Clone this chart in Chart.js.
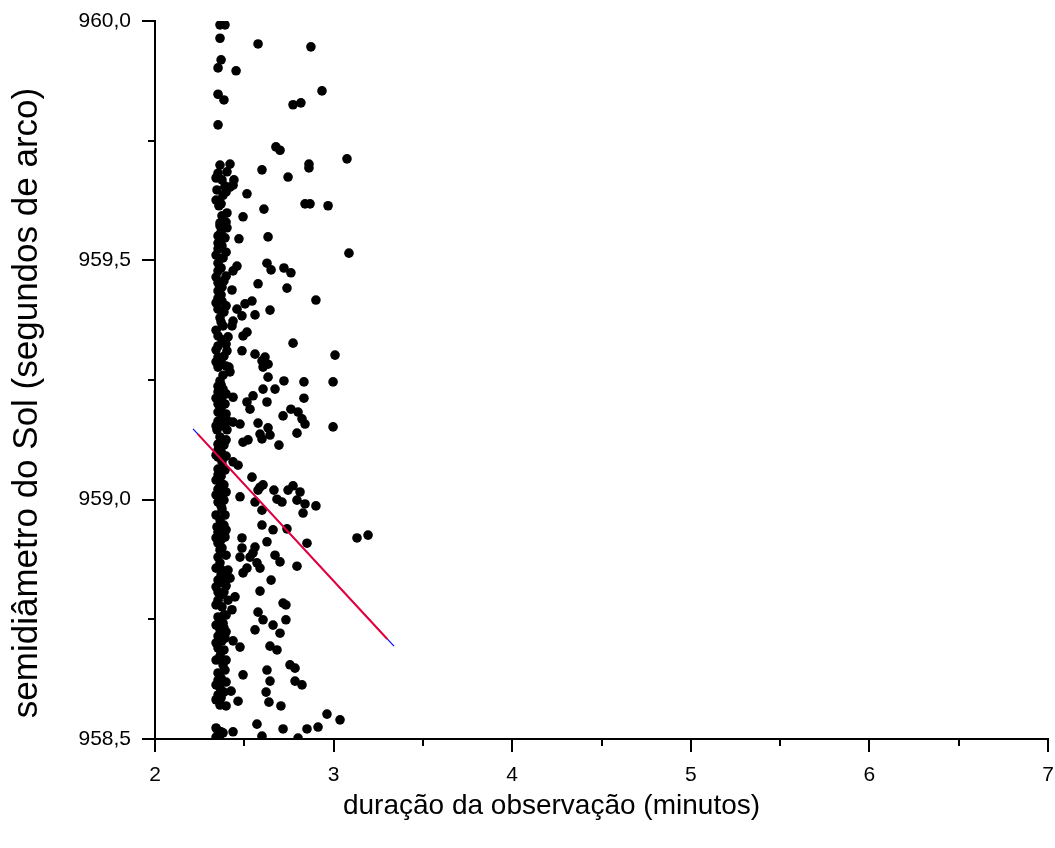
<!DOCTYPE html>
<html>
<head>
<meta charset="utf-8">
<script src="https://cdn.jsdelivr.net/npm/chart.js@4.4.1/dist/chart.umd.min.js"></script>
<style>
  html, body { margin: 0; padding: 0; background: #fff; }
  #wrap { width: 1055px; height: 848px; }
</style>
</head>
<body>
<div id="wrap"><canvas id="semiChart" width="1055" height="848"></canvas></div>
<script>
// duração da observação (minutos)
const durX = [
  2.364,2.392,2.364,2.370,2.353,2.353,2.386,2.353,2.364,2.420,
  2.353,2.403,2.392,2.420,2.437,2.358,2.403,2.364,2.364,2.403,
  2.353,2.392,2.353,2.375,2.353,2.353,2.353,2.353,2.386,2.353,
  2.431,2.353,2.375,2.353,2.364,2.437,2.381,2.431,2.353,2.409,
  2.353,2.403,2.353,2.353,2.414,2.420,2.364,2.353,2.353,2.381,
  2.375,2.437,2.353,2.353,2.392,2.353,2.381,2.409,2.437,2.476,
  2.347,2.403,2.364,2.353,2.353,2.353,2.375,2.437,2.465,2.353,
  2.353,2.364,2.353,2.364,2.353,2.375,2.392,2.347,2.353,2.392,
  2.353,2.375,2.353,2.364,2.375,2.409,2.420,2.353,2.381,2.353,
  2.353,2.409,2.448,2.375,2.431,2.353,2.381,2.364,2.353,2.392,
  2.375,2.437,2.353,2.364,2.381,2.353,2.353,2.364,2.353,2.364,
  2.353,2.381,2.437,
  2.342,2.375,2.347,2.381,2.342,2.375,2.342,2.381,2.342,2.375,
  2.342,2.386,2.342,2.375,2.342,2.386,2.342,2.381,2.342,2.375,
  2.342,2.386,2.342,2.392,2.342,2.386,2.342,2.386,2.342,2.364,
  2.386,2.342,2.364,2.342,2.386,2.342,2.386,2.342,2.386,2.342,
  2.386,2.342,2.386,2.342,2.392,2.342,2.386,2.342,2.342,2.364,2.342,
  2.398,2.370,2.398,2.370,2.398,2.370,2.398,2.370,2.398,2.370,
  2.398,2.370,2.398,2.370,2.398,2.370,2.398,2.370,2.398,2.370,
  2.398,2.370,2.398,2.370,2.398,2.370,2.398,2.370,2.398,2.370,
  2.398,2.370,2.398,2.370,2.398,2.370,2.398,2.370,2.398,2.370,
  2.577,2.873,2.454,2.935,2.773,2.817,2.677,2.700,3.075,2.599,
  2.862,2.862,2.442,2.745,2.515,2.610,2.840,2.868,2.969,2.493,
  2.470,2.633,3.086,2.459,2.437,2.627,2.650,2.722,2.761,2.577,
  2.739,2.543,2.504,2.459,2.901,2.644,2.560,2.487,2.515,2.493,
  2.773,2.487,2.560,2.616,2.599,2.633,2.605,3.008,2.633,2.722,
  2.834,2.997,2.605,2.672,2.549,2.515,2.532,2.834,2.627,2.761,
  2.717,2.801,2.823,2.840,2.577,2.633,2.997,2.588,2.599,2.644,
  2.493,2.521,2.694,2.795,2.543,2.588,2.605,2.577,2.666,2.745,
  2.773,2.812,2.476,2.560,2.683,2.711,2.795,2.840,2.901,2.599,
  2.829,2.599,2.661,2.739,2.487,2.487,2.560,2.549,2.532,2.476,
  2.627,2.672,2.700,2.851,2.795,3.131,3.193,2.571,2.588,2.515,
  2.493,2.650,2.588,2.717,2.733,2.577,2.605,2.733,2.661,2.560,
  2.700,2.476,2.644,2.683,2.756,2.784,2.627,2.493,2.644,2.784,
  2.823,2.426,2.622,2.465,2.638,2.705,2.963,3.036,2.571,2.913,
  2.851,2.717,2.599,2.801
];

// semidiâmetro do Sol (segundos de arco)
const semiY = [
  959.992,959.992,959.964,959.919,959.902,959.847,959.835,959.783,959.699,959.701,
  959.682,959.685,959.655,959.653,959.657,959.614,959.599,959.578,959.572,959.568,
  959.551,959.547,959.536,959.530,959.524,959.494,959.478,959.453,959.457,959.436,
  959.438,959.421,959.415,959.398,959.380,959.373,959.363,959.363,959.342,959.340,
  959.321,959.311,959.298,959.277,959.277,959.267,959.248,959.237,959.225,959.231,
  959.214,959.214,959.200,959.183,959.200,959.164,959.162,959.164,959.162,959.158,
  959.146,959.146,959.131,959.116,959.104,959.089,959.079,959.079,959.072,959.064,
  959.052,959.037,959.022,959.010,958.995,958.981,958.968,958.943,958.932,958.922,
  958.909,958.899,958.880,958.868,958.853,958.853,958.836,958.832,958.826,958.807,
  958.790,958.790,958.797,958.776,958.770,958.755,958.742,958.728,958.715,958.711,
  958.705,958.705,958.690,958.673,958.655,958.638,958.623,958.607,958.592,958.571,
  958.517,958.513,958.515,
  959.672,959.668,959.647,959.636,959.626,959.593,959.511,959.505,959.465,959.444,
  959.411,959.392,959.354,959.334,959.313,959.300,959.288,959.260,959.212,959.175,
  959.154,959.114,959.093,959.062,959.041,959.031,959.010,958.999,958.968,958.958,
  958.947,958.920,958.895,958.857,958.843,958.818,958.807,958.780,958.759,958.738,
  958.732,958.701,958.686,958.665,958.644,958.613,958.598,958.582,958.523,958.508,958.504,
  959.643,959.618,959.580,959.559,959.517,959.484,959.467,959.428,959.405,959.371,
  959.325,959.292,959.279,959.240,959.221,959.192,959.179,959.154,959.125,959.100,
  959.091,959.049,959.016,958.987,958.937,958.916,958.884,958.843,958.820,958.801,
  958.759,958.749,958.724,958.682,958.665,958.627,958.619,958.586,958.569,958.515,
  959.952,959.946,959.896,959.854,959.825,959.829,959.737,959.730,959.712,959.689,
  959.701,959.693,959.668,959.674,959.639,959.607,959.618,959.618,959.614,959.591,
  959.545,959.549,959.515,959.488,959.478,959.494,959.480,959.484,959.474,959.451,
  959.442,959.415,959.409,959.398,959.417,959.396,959.386,959.384,959.350,959.342,
  959.327,959.311,959.304,959.298,959.290,959.283,959.277,959.302,959.256,959.248,
  959.246,959.246,959.231,959.231,959.217,959.204,959.189,959.212,959.204,959.189,
  959.175,959.183,959.169,959.158,959.160,959.150,959.152,959.137,959.127,959.135,
  959.120,959.125,959.114,959.139,959.047,959.026,959.031,959.020,959.020,959.020,
  959.029,959.016,959.006,958.995,959.001,958.995,958.999,958.991,958.987,958.978,
  958.972,958.947,958.937,958.939,958.920,958.899,958.901,958.889,958.880,958.880,
  958.912,958.884,958.870,958.909,958.861,958.920,958.926,958.868,958.857,958.857,
  958.847,958.832,958.809,958.784,958.780,958.765,958.749,958.749,958.738,958.728,
  958.721,958.692,958.694,958.686,958.655,958.648,958.644,958.634,958.621,958.621,
  958.613,958.600,958.598,958.579,958.577,958.569,958.552,958.540,958.531,958.525,
  958.521,958.521,958.506,958.502
];

// linear fit (two overlaid curves: blue underneath, red on top)
const fitBlueX = [2.213, 3.338];
const fitBlueY = [959.148, 958.694];
const fitRedX = [2.240, 3.300];
const fitRedY = [959.137, 958.709];

const xTicksMajor = [2, 3, 4, 5, 6, 7];
const yTicksMajor = [958.5, 959.0, 959.5, 960.0];
const xTitle = 'duração da observação (minutos)';
const yTitle = 'semidiâmetro do Sol (segundos de arco)';

const sans = "'Liberation Sans', Arial, Helvetica, sans-serif";

function isMajor(list, v) {
    return list.some(m => Math.abs(m - v) < 1e-6);
}

// outward tick marks (long on labelled values) and the two axis titles
const axisDecor = {
    id: 'axisDecor',
    afterDraw(chart) {
        const ctx = chart.ctx;
        const xs = chart.scales.x;
        const ys = chart.scales.y;
        ctx.save();
        ctx.strokeStyle = '#000';
        ctx.lineWidth = 2;
        xs.ticks.forEach(t => {
            const px = Math.round(xs.getPixelForValue(t.value));
            const len = isMajor(xTicksMajor, t.value) ? 13 : 7;
            ctx.beginPath();
            ctx.moveTo(px, xs.top);
            ctx.lineTo(px, xs.top + len);
            ctx.stroke();
        });
        ys.ticks.forEach(t => {
            const py = Math.round(ys.getPixelForValue(t.value));
            const len = isMajor(yTicksMajor, t.value) ? 13 : 7;
            ctx.beginPath();
            ctx.moveTo(ys.right, py);
            ctx.lineTo(ys.right - len, py);
            ctx.stroke();
        });

        ctx.fillStyle = '#000';
        ctx.textAlign = 'center';
        ctx.textBaseline = 'middle';

        // x title is centred a bit left of the axis middle
        ctx.font = '28px ' + sans;
        ctx.fillText(xTitle, (xs.left + xs.right) / 2 - 50, xs.bottom - 42);

        // y title sits a little below the middle of the axis
        ctx.font = '35px ' + sans;
        ctx.translate(27, (ys.top + ys.bottom) / 2 + 23);
        ctx.rotate(-Math.PI / 2);
        ctx.fillText(yTitle, 0, 0);
        ctx.restore();
    }
};

function noPad(s) {
    s.paddingTop = 0;
    s.paddingBottom = 0;
    s.paddingLeft = 0;
    s.paddingRight = 0;
}

const points = durX.map((x, i) => ({ x: x, y: semiY[i] }));

new Chart(document.getElementById('semiChart'), {
    type: 'scatter',
    data: {
        datasets: [
            {
                data: fitRedX.map((x, i) => ({ x: x, y: fitRedY[i] })),
                showLine: true,
                borderColor: '#e8003a',
                borderWidth: 2,
                pointRadius: 0,
                order: 0
            },
            {
                data: fitBlueX.map((x, i) => ({ x: x, y: fitBlueY[i] })),
                showLine: true,
                borderColor: '#1010ff',
                borderWidth: 1.3,
                pointRadius: 0,
                order: 1
            },
            {
                data: points,
                backgroundColor: '#000',
                borderColor: '#000',
                borderWidth: 0,
                pointRadius: 4.8,
                clip: 0,
                order: 2
            }
        ]
    },
    options: {
        responsive: false,
        animation: false,
        layout: { padding: { left: 0, top: 21, right: 7, bottom: 0 } },
        plugins: {
            legend: { display: false },
            tooltip: { enabled: false }
        },
        scales: {
            x: {
                type: 'linear',
                min: 2,
                max: 7,
                afterFit: s => { s.height = 109; noPad(s); },
                border: { display: true, color: '#000', width: 2 },
                grid: { display: false, drawTicks: false },
                ticks: {
                    stepSize: 0.5,
                    padding: 24,
                    color: '#000',
                    font: { family: sans, size: 21 },
                    maxRotation: 0,
                    callback: v => isMajor(xTicksMajor, v) ? String(Math.round(v)) : ''
                }
            },
            y: {
                type: 'linear',
                min: 958.5,
                max: 960,
                afterFit: s => { s.width = 155; noPad(s); },
                border: { display: true, color: '#000', width: 2 },
                grid: { display: false, drawTicks: false },
                ticks: {
                    stepSize: 0.25,
                    padding: 24,
                    color: '#000',
                    font: { family: sans, size: 21 },
                    callback: v => isMajor(yTicksMajor, v) ? v.toFixed(1).replace('.', ',') : ''
                }
            }
        }
    },
    plugins: [axisDecor]
});
</script>
</body>
</html>
